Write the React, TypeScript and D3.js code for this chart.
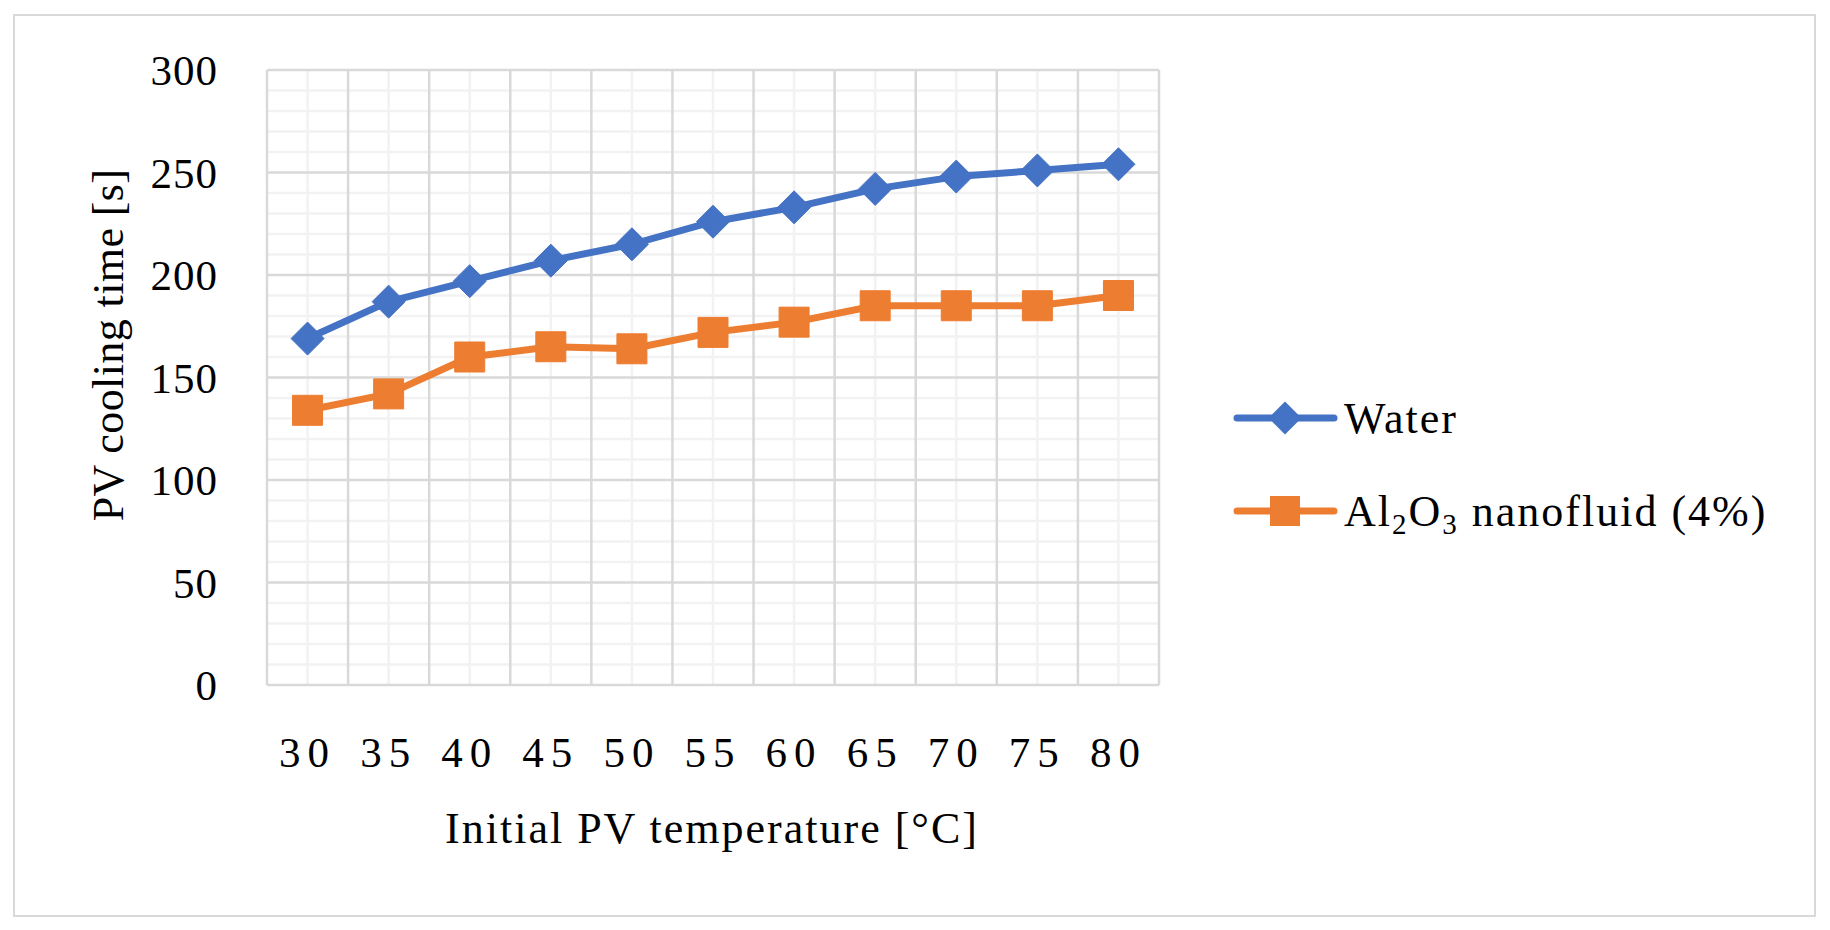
import { useEffect, useRef } from "react";
import * as d3 from "d3";

const temps = ["30", "35", "40", "45", "50", "55", "60", "65", "70", "75", "80"];
const waterTimes = [169, 187, 197, 207, 215, 226, 233, 242, 248, 251, 254];
const nanoTimes = [134, 142, 160, 165, 164, 172, 177, 185, 185, 185, 190];
const yTicks = [0, 50, 100, 150, 200, 250, 300];

const W = 1830;
const H = 930;
const FONT = "'Palatino Linotype', 'Book Antiqua', 'Liberation Serif', serif";
const BLUE = "#4472C4";
const ORANGE = "#ED7D31";

export default function App() {
  const ref = useRef<SVGSVGElement | null>(null);

  useEffect(() => {
    if (!ref.current) return;
    const svg = d3.select(ref.current);
    svg.selectAll("*").remove();

    const x = d3.scaleBand<string>().domain(temps).range([267, 1159]).padding(0);
    const y = d3.scaleLinear().domain([0, 300]).range([685, 70]);
    const cx = (d: string) => (x(d) ?? 0) + x.bandwidth() / 2;

    // outer frame
    svg
      .append("rect")
      .attr("x", 14)
      .attr("y", 15)
      .attr("width", 1801)
      .attr("height", 901)
      .attr("fill", "#fff")
      .attr("stroke", "#d9d9d9")
      .attr("stroke-width", 2);

    const grid = svg.append("g");
    // minor horizontal every 10
    grid
      .selectAll("line.hmin")
      .data(d3.range(0, 301, 10).filter((v) => v % 50 !== 0))
      .join("line")
      .attr("x1", 267)
      .attr("x2", 1159)
      .attr("y1", (d) => y(d))
      .attr("y2", (d) => y(d))
      .attr("stroke", "#f2f2f2")
      .attr("stroke-width", 2.5);
    // minor vertical at category centres
    grid
      .selectAll("line.vmin")
      .data(temps)
      .join("line")
      .attr("x1", (d) => cx(d))
      .attr("x2", (d) => cx(d))
      .attr("y1", y(0))
      .attr("y2", y(300))
      .attr("stroke", "#f2f2f2")
      .attr("stroke-width", 2.5);
    // major horizontal
    svg
      .append("g")
      .selectAll("line")
      .data(yTicks)
      .join("line")
      .attr("x1", 267)
      .attr("x2", 1159)
      .attr("y1", (d) => y(d))
      .attr("y2", (d) => y(d))
      .attr("stroke", "#d9d9d9")
      .attr("stroke-width", 2.5);
    // major vertical at band edges
    const edges = temps.map((d) => x(d) ?? 0).concat([x.range()[1]]);
    svg
      .append("g")
      .selectAll("line")
      .data(edges)
      .join("line")
      .attr("x1", (d) => d)
      .attr("x2", (d) => d)
      .attr("y1", y(0))
      .attr("y2", y(300))
      .attr("stroke", "#d9d9d9")
      .attr("stroke-width", 2.5);

    // y tick labels
    svg
      .append("g")
      .selectAll("text")
      .data(yTicks)
      .join("text")
      .attr("x", 218)
      .attr("y", (d) => y(d) + 15)
      .attr("text-anchor", "end")
      .style("font", `43px ${FONT}`)
      .style("letter-spacing", "1px")
      .text((d) => d);

    // x tick labels
    svg
      .append("g")
      .selectAll("text")
      .data(temps)
      .join("text")
      .attr("x", (d) => cx(d) - 0)
      .attr("y", 767)
      .attr("text-anchor", "middle")
      .style("font", `43px ${FONT}`)
      .style("letter-spacing", "7px")
      .text((d) => d);

    // axis titles
    svg
      .append("text")
      .attr("x", 712)
      .attr("y", 843)
      .attr("text-anchor", "middle")
      .style("font", `44px ${FONT}`)
      .style("letter-spacing", "2px")
      .text("Initial PV temperature [°C]");
    svg
      .append("text")
      .attr("transform", "translate(123,345) rotate(-90)")
      .attr("text-anchor", "middle")
      .style("font", `44px ${FONT}`)
      .style("letter-spacing", "0.4px")
      .text("PV cooling time [s]");

    const line = d3
      .line<number>()
      .x((_, i) => cx(temps[i]))
      .y((d) => y(d));

    const diamond = (s: number) => `M0,${-s}L${s},0L0,${s}L${-s},0Z`;
    const square = (s: number) => `M${-s},${-s}H${s}V${s}H${-s}Z`;

    const series = [
      { name: "Water", values: waterTimes, color: BLUE, mark: diamond(16.5) },
      { name: "nano", values: nanoTimes, color: ORANGE, mark: square(15) },
    ];

    series.forEach((s) => {
      svg
        .append("path")
        .datum(s.values)
        .attr("d", line)
        .attr("fill", "none")
        .attr("stroke", s.color)
        .attr("stroke-width", 7)
        .attr("stroke-linejoin", "round");
      svg
        .append("g")
        .selectAll("path")
        .data(s.values)
        .join("path")
        .attr("transform", (d, i) => `translate(${cx(temps[i])},${y(d)})`)
        .attr("d", s.mark)
        .attr("fill", s.color)
        .attr("stroke", s.color)
        .attr("stroke-width", 1)
        .attr("stroke-linejoin", "round");
    });

    // legend
    const legendY = [418, 511];
    series.forEach((s, i) => {
      const g = svg.append("g").attr("transform", `translate(0,${legendY[i]})`);
      g.append("line")
        .attr("x1", 1237)
        .attr("x2", 1334)
        .attr("stroke", s.color)
        .attr("stroke-width", 7)
        .attr("stroke-linecap", "round");
      g.append("path")
        .attr("transform", "translate(1285,0)")
        .attr("d", s.mark)
        .attr("fill", s.color);
      const t = g
        .append("text")
        .attr("x", 1344)
        .attr("y", 15)
        .style("font", `44px ${FONT}`)
        .style("letter-spacing", "2px");
      if (i === 0) {
        t.text("Water");
      } else {
        t.append("tspan").text("Al");
        t.append("tspan").attr("dy", 8).style("font-size", "29px").text("2");
        t.append("tspan").attr("dy", -8).text("O");
        t.append("tspan").attr("dy", 8).style("font-size", "29px").text("3");
        t.append("tspan").attr("dy", -8).text(" nanofluid (4%)");
      }
    });
  }, []);

  return (
    <svg
      ref={ref}
      width={W}
      height={H}
      style={{ position: "absolute", left: 0, top: 0, display: "block", background: "#fff" }}
    />
  );
}
